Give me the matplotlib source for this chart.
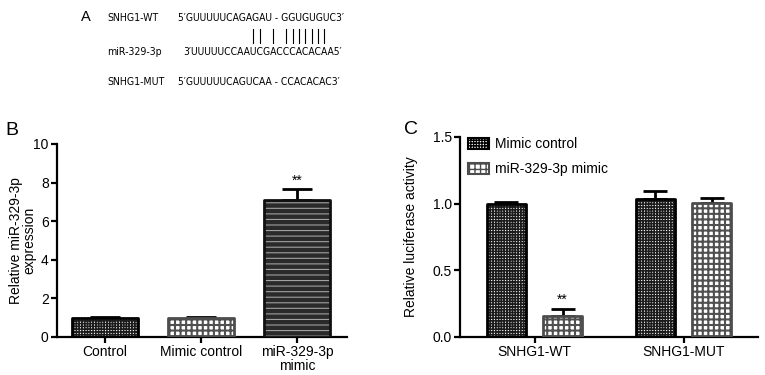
import matplotlib
matplotlib.use('Agg')
import matplotlib.pyplot as plt
import matplotlib.patches as mpatches
from matplotlib import font_manager
import numpy as np

plt.rcParams['font.family'] = ['Liberation Sans', 'DejaVu Sans']

# panel B data
b_groups = ['Control', 'Mimic control', 'miR-329-3p\nmimic']
b_values = [1.0, 1.0, 7.12]
b_err = [0.05, 0.05, 0.55]

# panel C data
c_groups = ['SNHG1-WT', 'SNHG1-MUT']
c_series = ['Mimic control', 'miR-329-3p mimic']
c_ctrl = [1.0, 1.035]
c_ctrl_err = [0.015, 0.06]
c_mimic = [0.16, 1.005]
c_mimic_err = [0.05, 0.035]

# panel A sequences
seq_names = ['SNHG1-WT', 'miR-329-3p', 'SNHG1-MUT']
seqs = ['5\u2032GUUUUUCAGAGAU - GGUGUGUC3\u2032',
        '3\u2032UUUUUCCAAUCGACCCACACAA5\u2032',
        '5\u2032GUUUUUCAGUCAA - CCACACAC3\u2032']
pair_idx = [11, 12, 14, 16, 17, 18, 19, 20, 21, 22]

DENSE = dict(face='white', hcol='#1c1c1c', hatch='++++++', hlw=1.15, edge='black')
CHECK = dict(face='white', hcol='#505050', hatch='+++', hlw=1.5, edge='#4d4d4d')
LINES = dict(face='#2a2a2a', hcol='#a0a0a0', hatch='---', hlw=0.8, edge='#111111')


def styled_bar(ax, x, h, w, st):
    ax.bar(x, h, w, color=st['face'], linewidth=0, zorder=2)
    with plt.rc_context({'hatch.linewidth': st['hlw']}):
        hb = ax.bar(x, h, w, color='none', edgecolor=st['hcol'], hatch=st['hatch'],
                    linewidth=0, zorder=3)
    for p in hb:
        if hasattr(p, 'set_hatch_linewidth'):
            p.set_hatch_linewidth(st['hlw'])
    ob = ax.bar(x, h, w, color='none', edgecolor=st['edge'], linewidth=2.0, zorder=4)
    for p in ob:
        p.set_joinstyle('round')
    return hb


def style_axes(ax):
    for s in ['top', 'right']:
        ax.spines[s].set_visible(False)
    for s in ['left', 'bottom']:
        ax.spines[s].set_linewidth(1.6)
    ax.tick_params(axis='both', width=1.6, length=4, labelsize=10, pad=2)


fig = plt.figure(figsize=(7.65, 3.75), dpi=100)
renderer = fig.canvas.get_renderer()

# ---- panel A ----
# prefer a narrow face if one is installed
a_family = ['Liberation Sans', 'DejaVu Sans']
a_stretch = 'normal'
for f in font_manager.fontManager.ttflist:
    if 'Narrow' in f.name or 'Condensed' in f.name:
        a_family = [f.name, 'DejaVu Sans']
        break
    if f.stretch in ('condensed', 'semi-condensed') and f.style == 'normal':
        a_family = [f.name, 'DejaVu Sans']
        a_stretch = f.stretch
        break

# fit the size so the first sequence is close to its width in the figure
probe = fig.text(0, 0, seqs[0], fontsize=10, family=a_family, stretch=a_stretch)
a_size = 10 * 167 / probe.get_window_extent(renderer).width
probe.remove()
a_size = min(a_size, 9.5)
a_kw = dict(family=a_family, stretch=a_stretch)

fig.text(86 / 765, 1 - 17 / 375, 'A', fontsize=10.5, ha='center', va='center')
rows_y = [18, 52, 82]
seq_x = [178, 183, 178]
seq_texts = []
for name, s, y, sx in zip(seq_names, seqs, rows_y, seq_x):
    fig.text(107 / 765, 1 - y / 375, name, fontsize=a_size + 0.2, va='center', **a_kw)
    t = fig.text(sx / 765, 1 - y / 375, s, fontsize=a_size, va='center', **a_kw)
    seq_texts.append(t)

# pairing lines over the miR characters
x0 = seq_texts[1].get_window_extent(renderer).x0
for i in pair_idx:
    t1 = fig.text(0, 0, seqs[1][:i], fontsize=a_size, **a_kw)
    t2 = fig.text(0, 0, seqs[1][:i + 1], fontsize=a_size, **a_kw)
    w1 = t1.get_window_extent(renderer).width
    w2 = t2.get_window_extent(renderer).width
    t1.remove()
    t2.remove()
    xl = (x0 + (w1 + w2) / 2) / fig.bbox.width
    fig.add_artist(plt.Line2D([xl, xl], [1 - 29 / 375, 1 - 43 / 375],
                              color='black', linewidth=0.8, transform=fig.transFigure))

# ---- panel B ----
axb = fig.add_axes([57 / 765, 38 / 375, 290 / 765, 193 / 375])
xb = np.arange(len(b_groups))
for xi, v, st in zip(xb, b_values, [DENSE, CHECK, LINES]):
    styled_bar(axb, xi, v, 0.68, st)
axb.errorbar(xb, b_values, yerr=[np.zeros(len(b_err)), b_err], fmt='none',
             ecolor='black', elinewidth=2, capsize=11, capthick=2, zorder=1)
axb.text(xb[2], b_values[2] + b_err[2] + 0.05, '**', ha='center', va='bottom', fontsize=10)
axb.set_xlim(-0.5, 2.52)
axb.set_ylim(0, 10)
axb.set_yticks([0, 2, 4, 6, 8, 10])
axb.set_xticks(xb)
axb.set_xticklabels(b_groups, linespacing=0.95)
style_axes(axb)
axb.set_ylabel('Relative miR-329-3p\nexpression', fontsize=10, linespacing=0.95)
axb.yaxis.set_label_coords(-0.072, 0.5)
fig.text(12 / 765, 1 - 131 / 375, 'B', fontsize=14, ha='center', va='center')

# ---- panel C ----
axc = fig.add_axes([460 / 765, 38 / 375, 298 / 765, 200 / 375])
xc = np.arange(len(c_groups))
off = 0.188
w = 0.262
styled_bar(axc, xc - off, c_ctrl, w, DENSE)
styled_bar(axc, xc + off, c_mimic, w, CHECK)
axc.errorbar(xc - off, c_ctrl, yerr=[np.zeros(2), c_ctrl_err], fmt='none',
             ecolor='black', elinewidth=2, capsize=8.5, capthick=2, zorder=1)
axc.errorbar(xc + off, c_mimic, yerr=[np.zeros(2), c_mimic_err], fmt='none',
             ecolor='black', elinewidth=2, capsize=8.5, capthick=2, zorder=1)
axc.text(xc[0] + off, c_mimic[0] + c_mimic_err[0] + 0.015, '**', ha='center',
         va='bottom', fontsize=10)
axc.set_xlim(-0.5, 1.5)
axc.set_ylim(0, 1.5)
axc.set_yticks([0, 0.5, 1.0, 1.5])
axc.set_yticklabels(['0.0', '0.5', '1.0', '1.5'])
axc.set_xticks(xc)
axc.set_xticklabels(c_groups)
style_axes(axc)
axc.set_ylabel('Relative luciferase activity', fontsize=10)
axc.yaxis.set_label_coords(-0.141, 0.5)
fig.text(411 / 765, 1 - 130 / 375, 'C', fontsize=14, ha='center', va='center')

# legend with proxy patches
handles = []
for st in [DENSE, CHECK]:
    with plt.rc_context({'hatch.linewidth': st['hlw']}):
        p = mpatches.Patch(facecolor=st['face'], edgecolor=st['hcol'], hatch=st['hatch'],
                           linewidth=0)
    if hasattr(p, 'set_hatch_linewidth'):
        p.set_hatch_linewidth(st['hlw'])
    handles.append(p)
leg = axc.legend(handles, c_series, loc='upper left', bbox_to_anchor=(0.0, 1.04),
                 frameon=False, fontsize=10, handlelength=1.5, handleheight=0.9,
                 handletextpad=0.45, labelspacing=0.78, borderaxespad=0.2)
for p, st in zip(leg.get_patches(), [DENSE, CHECK]):
    p.set_linewidth(1.5)
    p.set_edgecolor(st['edge'])

fig.savefig('out.png', dpi=100)
